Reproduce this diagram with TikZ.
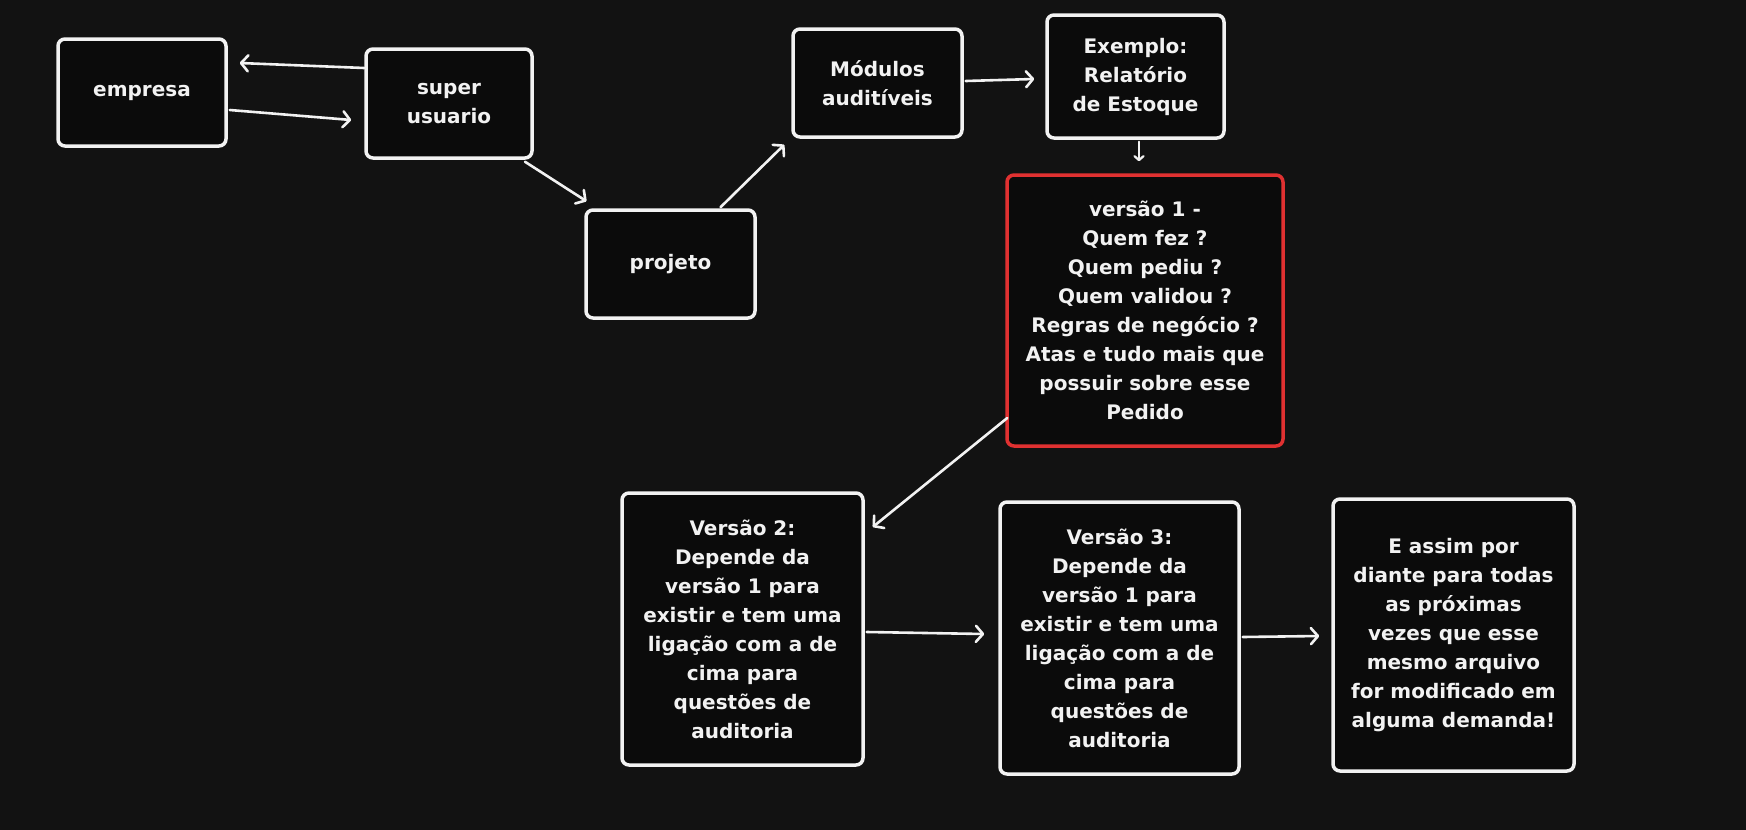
\documentclass[tikz,border=0pt]{standalone}
\usepackage{fontspec}
\setmainfont{DejaVu Sans}
\usetikzlibrary{arrows.meta}
\definecolor{bgc}{HTML}{121212}
\definecolor{boxc}{HTML}{0B0B0B}
\definecolor{linec}{HTML}{F2F2F2}
\definecolor{redc}{HTML}{E03131}
\tikzset{
  box/.style={draw=linec, fill=boxc, line width=3.5pt, rounded corners=7pt,
    text=linec, align=center, inner sep=0pt,
    font=\fontsize{20}{29}\bfseries\selectfont},
  redbox/.style={box, draw=redc},
  arr/.style={draw=linec, line width=2.6pt, line cap=round,
    -{Straight Barb[length=7pt,width=16pt,line width=2.6pt,round]}},
  smallarr/.style={draw=linec, line width=2.2pt, line cap=round,
    -{Straight Barb[length=4pt,width=9pt,line width=2.2pt,round]}},
}
\begin{document}
\begin{tikzpicture}[x=1pt,y=-1pt]
\fill[bgc] (0,0) rectangle (1746,830);
\useasboundingbox (0,0) rectangle (1746,830);

\node[box, minimum width=168pt, minimum height=107pt] (empresa) at (142,92.5) {empresa};
\node[box, minimum width=166pt, minimum height=109pt] (super) at (449,103.5) {super\\usuario};
\node[box, minimum width=169pt, minimum height=108pt] (projeto) at (670.5,264) {projeto};
\node[box, minimum width=169pt, minimum height=108pt] (modulos) at (877.5,83) {Módulos\\auditíveis};
\node[box, minimum width=177pt, minimum height=123pt] (exemplo) at (1135.5,76.5) {Exemplo:\\Relatório\\de Estoque};
\node[redbox, minimum width=276pt, minimum height=271pt] (v1) at (1145,310.5) {versão 1 -\\Quem fez ?\\Quem pediu ?\\Quem validou ?\\Regras de negócio ?\\Atas e tudo mais que\\possuir sobre esse\\Pedido};
\node[box, minimum width=241pt, minimum height=272pt] (v2) at (742.5,629) {Versão 2:\\Depende da\\versão 1 para\\existir e tem uma\\ligação com a de\\cima para\\questões de\\auditoria};
\node[box, minimum width=239pt, minimum height=272pt] (v3) at (1119.5,638) {Versão 3:\\Depende da\\versão 1 para\\existir e tem uma\\ligação com a de\\cima para\\questões de\\auditoria};
\node[box, minimum width=241pt, minimum height=272pt] (eassim) at (1453.5,635) {E assim por\\diante para todas\\as próximas\\vezes que esse\\mesmo arquivo\\for modificado em\\alguma demanda!};

% connectors (yshift is in canvas units: positive = up)
\draw[arr] ([yshift=35.5pt]super.west) -- ([xshift=12pt,yshift=29.5pt]empresa.east);
\draw[arr] ([xshift=2pt,yshift=-17.5pt]empresa.east) -- ([xshift=-13pt,yshift=-16.5pt]super.west);
\draw[arr] ([xshift=76pt,yshift=-2pt]super.south) -- ([xshift=-84pt,yshift=7pt]projeto.north);
\draw[arr] ([xshift=50pt,yshift=1pt]projeto.north) -- ([xshift=-7pt,yshift=-6pt]modulos.south west);
\draw[arr] ([xshift=2pt,yshift=2pt]modulos.east) -- ([xshift=-11pt,yshift=-2.5pt]exemplo.west);
\draw[smallarr] ([xshift=3.5pt,yshift=-2pt]exemplo.south) -- ([xshift=-6pt,yshift=12pt]v1.north);
\draw[arr] ([xshift=2pt,yshift=-107.5pt]v1.west) -- ([xshift=8pt,yshift=102pt]v2.east);
\draw[arr] ([xshift=2pt,yshift=-3pt]v2.east) -- ([xshift=-14pt,yshift=4pt]v3.west);
\draw[arr] ([xshift=2pt,yshift=1pt]v3.east) -- ([xshift=-12pt,yshift=-1pt]eassim.west);
\end{tikzpicture}
\end{document}
